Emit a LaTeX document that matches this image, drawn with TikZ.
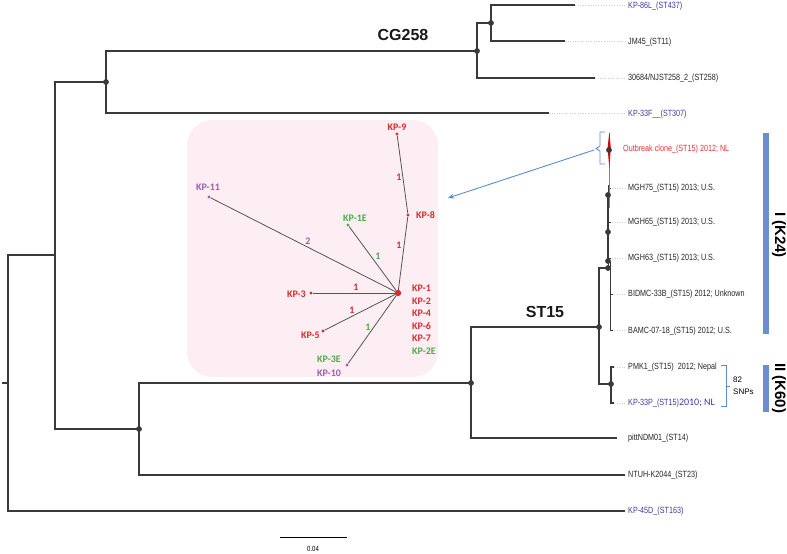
\documentclass[tikz,border=0pt]{standalone}
\usepackage{fontspec}
\setmainfont{Liberation Sans}
\newfontfamily\narrowf[FakeStretch=0.8]{Liberation Sans}
\newfontfamily\carl{Carlito}
\usetikzlibrary{arrows.meta,calc}
\definecolor{treeline}{HTML}{3A3A3A}
\definecolor{labblue}{HTML}{3C3CA0}
\definecolor{labred}{HTML}{E0333C}
\definecolor{netred}{HTML}{D32F2F}
\definecolor{netgreen}{HTML}{52A84A}
\definecolor{netpurple}{HTML}{9C5FB5}
\definecolor{netedge}{HTML}{555555}
\definecolor{pinkbg}{HTML}{FDEEF3}
\definecolor{barblue}{HTML}{6A8FD0}
\definecolor{bracketblue}{HTML}{5B8BD6}
\definecolor{leader}{HTML}{D0D0D0}
\tikzset{
  br/.style={draw=treeline, line width=1.1pt},
  tdot/.style={circle, fill=treeline, inner sep=0pt, minimum size=5.8pt},
  leaf/.style={font=\narrowf\fontsize{9}{10}\selectfont, anchor=west, inner sep=0pt, text=black!85},
  lead/.style={draw=leader, dotted, line width=0.6pt},
  clade/.style={font=\bfseries\fontsize{16}{18}\selectfont, text=black!90, inner sep=0pt},
  ndot/.style={circle, inner sep=0pt, minimum size=3.4pt},
  nlab/.style={font=\carl\bfseries\fontsize{10}{11}\selectfont, inner sep=0pt},
  nedge/.style={draw=netedge, line width=0.8pt},
}
\begin{document}
\begin{tikzpicture}[x=1pt,y=-1pt]
\useasboundingbox (0,0) rectangle (787,554);
% pink box
\fill[pinkbg, rounded corners=25pt] (187,120) rectangle (438,377);

% ---------- tree ----------
\coordinate (R) at (8,383);
\coordinate (A) at (55,255);
\coordinate (B) at (106,82);
\coordinate (C) at (477,51);
\coordinate (D) at (491,23);
\coordinate (t86) at (575,5);
\coordinate (tJM) at (565,41);
\coordinate (t306) at (595,78);
\coordinate (t33F) at (549,113);
\coordinate (E) at (139,429);
\coordinate (F) at (471,383);
\coordinate (G) at (599,327);
\coordinate (H) at (611,384);
\coordinate (tPMK) at (614,367);
\coordinate (t33P) at (614,403);
\coordinate (tPitt) at (617,438);
\coordinate (tNTUH) at (625,475);
\coordinate (t45D) at (625,511);
\coordinate (I) at (608,268);

\draw[br] (2,383) -- (R);
\draw[br] (R) |- (A);
\draw[br] (R) |- (t45D);
\draw[br] (A) |- (B);
\draw[br] (A) |- (E);
\draw[br] (B) |- (C);
\draw[br] (B) |- (t33F);
\draw[br] (C) |- (D);
\draw[br] (C) |- (t306);
\draw[br] (D) |- (t86);
\draw[br] (D) |- (tJM);
\draw[br] (E) |- (F);
\draw[br] (E) |- (tNTUH);
\draw[br] (F) |- (G);
\draw[br] (F) |- (tPitt);
\draw[br] (G) |- (I);
\draw[br] (G) |- (H);
\draw[br] (H) |- (tPMK);
\draw[br] (H) |- (t33P);
% subclade I
\draw[br, line width=0.9pt] (I) -- (608,185);
\draw[br, line width=2.4pt] (608,195) -- (608,262);
\draw[br, line width=0.9pt] (610,262) -- (610,330) -- (613,330);
\draw[br, line width=0.8pt] (610,294) -- (613,294);
\draw[br, line width=0.8pt] (608,188) -- (611,188);
\draw[br, line width=0.8pt] (608,222) -- (611,222);
\draw[br, line width=0.8pt] (608,258) -- (611,258);
\draw[draw=labred!80, line width=1pt] (609,208) -- (609,133);
\fill[red!85!black] (609.3,132) -- (610.8,148) -- (609.3,168) -- (607.6,148) -- cycle;

% dots
\foreach \p in {B,C,D,E,F,G,H} \node[tdot] at (\p) {};
\node[tdot] at (608,261) {};
\node[tdot] at (608,268) {};
\node[tdot] at (608,232) {};
\node[tdot] at (608,195) {};
\node[tdot] at (609,150) {};

% leaders
\draw[lead] (t86) -- (626,5);
\draw[lead] (tJM) -- (626,41);
\draw[lead] (t306) -- (626,78);
\draw[lead] (t33F) -- (626,113);
\draw[lead] (612,188) -- (626,188);
\draw[lead] (612,222) -- (626,222);
\draw[lead] (612,258) -- (626,258);
\draw[lead] (614,294) -- (626,294);
\draw[lead] (614,330) -- (626,330);
\draw[lead] (tPMK) -- (626,367);
\draw[lead] (t33P) -- (626,403);

% leaf labels
\node[leaf, text=labblue] (l86) at (628,6) {KP-86L\_(ST437)};
\node[leaf] (lJM) at (628,42) {JM45\_(ST11)};
\node[leaf] (l306) at (628,78) {30684/NJST258\_2\_(ST258)};
\node[leaf, text=labblue] (l33F) at (628,114) {KP-33F\_\_(ST307)};
\node[leaf, text=labred] (lOut) at (623,149) {Outbreak clone\_(ST15) 2012; NL};
\node[leaf] (lM75) at (628,188) {MGH75\_(ST15) 2013; U.S.};
\node[leaf] (lM65) at (628,222) {MGH65\_(ST15) 2013; U.S.};
\node[leaf] (lM63) at (628,258) {MGH63\_(ST15) 2013; U.S.};
\node[leaf] (lBID) at (628,294) {BIDMC-33B\_(ST15) 2012; Unknown};
\node[leaf] (lBAMC) at (628,331) {BAMC-07-18\_(ST15) 2012; U.S.};
\node[leaf] (lPMK) at (628,367) {PMK1\_(ST15)\ \ 2012; Nepal};
\node[leaf, text=labblue] (l33P) at (628,403) {KP-33P\_(ST15){\carl\fontsize{10}{11}\selectfont 2010; NL}};
\node[leaf] (lPitt) at (628,438) {pittNDM01\_(ST14)};
\node[leaf] (lNTUH) at (628,475) {NTUH-K2044\_(ST23)};
\node[leaf, text=labblue] (l45D) at (628,511) {KP-45D\_(ST163)};

% clade names
\node[clade] (cg) at (403,35) {CG258};
\node[clade] (st) at (545,312) {ST15};

% brace and arrow
\draw[bracketblue, line width=0.9pt] (605,132) -- (600,132) -- (600,146) -- (596,148.5) -- (600,151) -- (600,164) -- (605,164);
\coordinate (brtip) at (594,150);
\coordinate (arrend) at (448,198);
\draw[bracketblue, line width=0.9pt, -{Stealth[length=6pt,width=5pt]}] (brtip) -- (arrend);

% SNP bracket
\draw[bracketblue, line width=0.9pt] (721,365) -- (726,365) -- (726,406) -- (721,406);
\draw[bracketblue, line width=0.9pt] (726,386) -- (730,386);
\node[font=\fontsize{8}{9}\selectfont, anchor=west, inner sep=0pt] (s82) at (733,380) {82};
\node[font=\fontsize{8}{9}\selectfont, anchor=west, inner sep=0pt] (snp) at (733,392) {SNPs};

% group bars
\fill[barblue] (763,133) rectangle (769,334);
\fill[barblue] (763,365) rectangle (769,412);
\node[rotate=-90, font=\bfseries\fontsize{15}{17}\selectfont, inner sep=0pt] (g1) at (779,235) {I (K24)};
\node[rotate=-90, font=\bfseries\fontsize{15}{17}\selectfont, inner sep=0pt] (g2) at (779,388) {II (K60)};

% scale bar
\coordinate (sb1) at (280,537);
\coordinate (sb2) at (347,537);
\draw[black, line width=1pt] (sb1) -- (sb2);
\node[font=\narrowf\fontsize{7.5}{8}\selectfont, inner sep=0pt] (sbl) at (313,549) {0.04};

% ---------- network ----------
\node[circle, fill=netred, inner sep=0pt, minimum size=6pt] (c) at (398,293) {};
\node[ndot, fill=netred] (k9) at (397,134) {};
\node[ndot, fill=netred] (k8) at (408,215) {};
\node[ndot, fill=netpurple] (k11) at (209,197) {};
\node[ndot, fill=netgreen] (k1e) at (348,225) {};
\node[ndot, fill=netred] (k3) at (311,293) {};
\node[ndot, fill=netred] (k5) at (323,331) {};
\node[ndot, fill=netpurple] (k3e) at (347,365) {};

\draw[nedge] (c) -- (k8) -- (k9);
\draw[nedge] (c) -- (k11);
\draw[nedge] (c) -- (k1e);
\draw[nedge] (c) -- (k3);
\draw[nedge] (c) -- (k5);
\draw[nedge] (c) -- (k3e);
\node[circle, fill=netred, inner sep=0pt, minimum size=6pt] at (c) {};

\node[nlab, text=netred] (lk9) at (397,127) {KP-9};
\node[nlab, text=netred, anchor=west] (lk8) at (416,215) {KP-8};
\node[nlab, text=netpurple] (lk11) at (208,187) {KP-11};
\node[nlab, text=netgreen] (lk1e) at (355,218) {KP-1E};
\node[nlab, text=netred, anchor=east] (lk3) at (306,294) {KP-3};
\node[nlab, text=netred, anchor=east] (lk5) at (320,335) {KP-5};
\node[nlab, text=netgreen] (lk3e) at (329,359) {KP-3E};
\node[nlab, text=netpurple] (lk10) at (329,373) {KP-10};
\node[nlab, text=netred, anchor=west] (lk1) at (412,288) {KP-1};
\node[nlab, text=netred, anchor=west] (lk2) at (412,301) {KP-2};
\node[nlab, text=netred, anchor=west] (lk4) at (412,313) {KP-4};
\node[nlab, text=netred, anchor=west] (lk6) at (412,326) {KP-6};
\node[nlab, text=netred, anchor=west] (lk7) at (412,338) {KP-7};
\node[nlab, text=netgreen, anchor=west] (lk2e) at (412,351) {KP-2E};

\node[nlab, text=netred] (e1) at (399,177) {1};
\node[nlab, text=netred] (e2) at (399,245) {1};
\node[nlab, text=netpurple] (e3) at (308,241) {2};
\node[nlab, text=netgreen] (e4) at (378,256) {1};
\node[nlab, text=netred] (e5) at (356,287) {1};
\node[nlab, text=netred] (e6) at (352,310) {1};
\node[nlab, text=netgreen] (e7) at (368,327) {1};
\end{tikzpicture}
\end{document}
